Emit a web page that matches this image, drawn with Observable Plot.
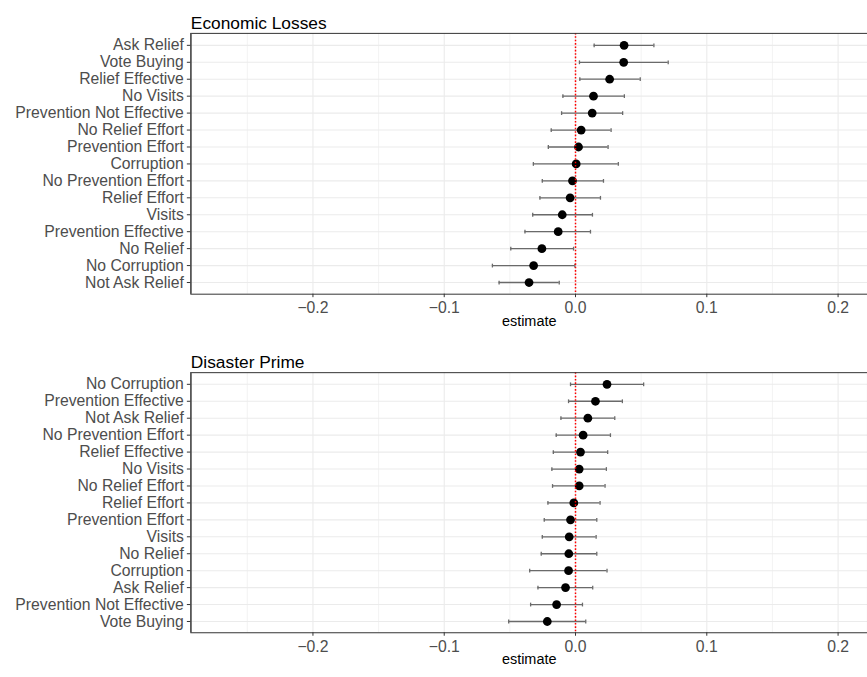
<!DOCTYPE html>
<html>
<head>
<meta charset="utf-8">
<script src="https://cdn.jsdelivr.net/npm/d3@7"></script>
<script src="https://cdn.jsdelivr.net/npm/@observablehq/plot@0.6"></script>
<style>
  html, body { margin: 0; padding: 0; background: #fff; overflow: hidden; }
  #wrap { width: 867px; height: 677px; overflow: hidden; }
  #wrap svg { display: block; }
</style>
</head>
<body>
<div id="wrap"></div>
<script>
// ---- Panel 1: Economic Losses ----
const econTerms = ["Ask Relief", "Vote Buying", "Relief Effective", "No Visits", "Prevention Not Effective",
  "No Relief Effort", "Prevention Effort", "Corruption", "No Prevention Effort", "Relief Effort",
  "Visits", "Prevention Effective", "No Relief", "No Corruption", "Not Ask Relief"];
const econEst = [0.0370, 0.0367, 0.0260, 0.0137, 0.0127, 0.0043, 0.0023, 0.0005, -0.0023, -0.0041,
  -0.0101, -0.0132, -0.0256, -0.0319, -0.0354];
const econLo = [0.0142, 0.0030, 0.0033, -0.0096, -0.0106, -0.0185, -0.0207, -0.0321, -0.0253, -0.0271,
  -0.0326, -0.0385, -0.0493, -0.0633, -0.0582];
const econHi = [0.0597, 0.0706, 0.0493, 0.0372, 0.0359, 0.0271, 0.0248, 0.0326, 0.0213, 0.0190,
  0.0129, 0.0114, -0.0015, -0.0005, -0.0124];

// ---- Panel 2: Disaster Prime ----
const primeTerms = ["No Corruption", "Prevention Effective", "Not Ask Relief", "No Prevention Effort",
  "Relief Effective", "No Visits", "No Relief Effort", "Relief Effort", "Prevention Effort", "Visits",
  "No Relief", "Corruption", "Ask Relief", "Prevention Not Effective", "Vote Buying"];
const primeEst = [0.0240, 0.0152, 0.0094, 0.0058, 0.0038, 0.0028, 0.0028, -0.0013, -0.0038, -0.0048,
  -0.0051, -0.0053, -0.0076, -0.0144, -0.0215];
const primeLo = [-0.0038, -0.0053, -0.0111, -0.0147, -0.0169, -0.0180, -0.0175, -0.0210, -0.0238, -0.0253,
  -0.0261, -0.0349, -0.0286, -0.0342, -0.0509];
const primeHi = [0.0519, 0.0357, 0.0299, 0.0266, 0.0245, 0.0235, 0.0225, 0.0187, 0.0162, 0.0157,
  0.0162, 0.0240, 0.0131, 0.0053, 0.0078];

const xTicks = [-0.2, -0.1, 0, 0.1, 0.2];
const xMinor = [-0.25, -0.15, -0.05, 0.05, 0.15];
const xDomain = [-0.293, 0.2224];
const xLabel = "estimate";

// vertical-bar symbol for error bar end caps
const capSymbol = {
  draw(ctx, size) {
    const h = Math.sqrt(size / Math.PI);
    ctx.moveTo(0, -h);
    ctx.lineTo(0, h);
  }
};

function table(terms, est, lo, hi) {
  return terms.map((t, i) => ({term: t, est: est[i], lo: lo[i], hi: hi[i]}));
}

function panel({title, terms, data, height, marginTop, marginBottom}) {
  return Plot.plot({
    width: 870,
    height,
    marginLeft: 191,
    marginRight: 0,
    marginTop,
    marginBottom,
    style: {fontFamily: "'Liberation Sans', Arial, Helvetica, sans-serif", fontSize: "15.8px", background: "#fff"},
    x: {domain: xDomain, label: null},
    y: {type: "point", domain: terms, padding: 0.6, label: null},
    marks: [
      Plot.ruleX(xMinor, {stroke: "#f2f2f2", strokeWidth: 0.9}),
      Plot.ruleX(xTicks, {stroke: "#ebebeb", strokeWidth: 1.1}),
      Plot.ruleY(terms, {stroke: "#ebebeb", strokeWidth: 1.1}),
      Plot.ruleY(data, {y: "term", x1: "lo", x2: "hi", stroke: "#6a6a6a", strokeWidth: 1.3}),
      Plot.dot(data, {x: "lo", y: "term", symbol: capSymbol, r: 1.9, stroke: "#6a6a6a", strokeWidth: 1.3, fill: "none"}),
      Plot.dot(data, {x: "hi", y: "term", symbol: capSymbol, r: 1.9, stroke: "#6a6a6a", strokeWidth: 1.3, fill: "none"}),
      Plot.dot(data, {x: "est", y: "term", r: 4.4, fill: "black", stroke: "none"}),
      Plot.ruleX([0], {stroke: "#ff0000", strokeWidth: 1.5, strokeDasharray: "1.6,1.8"}),
      Plot.frame({stroke: "#333333", strokeWidth: 1}),
      Plot.ruleX([xDomain[0]], {stroke: "#555555", strokeWidth: 1.6}),
      Plot.axisX({ticks: xTicks, tickFormat: d3.format(".1f"), tickSize: 3.5, tickPadding: 4.5,
        stroke: "#333333", fill: "#4d4d4d", label: null}),
      Plot.axisY({tickSize: 3.5, tickPadding: 3.5, stroke: "#333333", fill: "#4d4d4d", label: null}),
      Plot.text([title], {frameAnchor: "top-left", dy: -17.2, fontSize: 17.4, fill: "black"}),
      Plot.text([xLabel], {frameAnchor: "bottom", dy: 31.5, fontSize: 14.5, fill: "black"})
    ]
  });
}

const wrap = document.getElementById("wrap");
wrap.appendChild(panel({
  title: "Economic Losses", terms: econTerms,
  data: table(econTerms, econEst, econLo, econHi),
  height: 335, marginTop: 33, marginBottom: 40.3
}));
wrap.appendChild(panel({
  title: "Disaster Prime", terms: primeTerms,
  data: table(primeTerms, primeEst, primeLo, primeHi),
  height: 342, marginTop: 38.3, marginBottom: 42.7
}));
</script>
</body>
</html>
